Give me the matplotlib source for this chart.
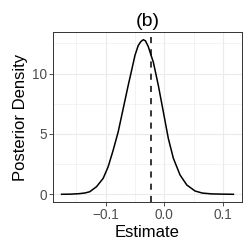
import matplotlib

matplotlib.use("Agg")
import matplotlib.pyplot as plt

# posterior density curve
estimate = [-0.175, -0.160, -0.145, -0.135, -0.127, -0.1154, -0.1041, -0.0956,
            -0.087, -0.0785, -0.0699, -0.0614, -0.0556, -0.0499, -0.0443, -0.040,
            -0.0357, -0.032, -0.0272, -0.023, -0.0186, -0.0101, -0.0015, 0.007,
            0.0156, 0.027, 0.0385, 0.0526, 0.065, 0.081, 0.100, 0.118]
density = [0.0, 0.01, 0.05, 0.11, 0.21, 0.63, 1.32, 2.28,
           3.66, 5.17, 7.11, 9.03, 10.27, 11.51, 12.33, 12.65,
           12.81, 12.72, 12.25, 11.6, 10.96, 9.04, 6.83, 4.63,
           2.98, 1.60, 0.77, 0.27, 0.10, 0.03, 0.01, 0.0]
point_estimate = -0.022

x_ticks = [-0.1, 0.0, 0.1]
x_minor = [-0.15, -0.05, 0.05]
y_ticks = [0, 5, 10]
y_minor = [2.5, 7.5, 12.5]

plt.rcParams["font.family"] = ["Liberation Sans", "DejaVu Sans"]

fig = plt.figure(figsize=(2.5, 2.5), dpi=100)
ax = fig.add_axes([0.212, 0.192, 0.756, 0.68])

for v in x_minor:
    ax.axvline(v, color="#EBEBEB", linewidth=0.4, zorder=0)
for v in y_minor:
    ax.axhline(v, color="#EBEBEB", linewidth=0.4, zorder=0)
for v in x_ticks:
    ax.axvline(v, color="#EBEBEB", linewidth=0.8, zorder=0)
for v in y_ticks:
    ax.axhline(v, color="#EBEBEB", linewidth=0.8, zorder=0)

ax.plot(estimate, density, color="black", linewidth=1.1)
ax.axvline(point_estimate, color="black", linewidth=1.1, linestyle=(0, (4, 4)))

span = max(estimate) - min(estimate)
ax.set_xlim(min(estimate) - 0.05 * span, max(estimate) + 0.05 * span)
top = max(density)
ax.set_ylim(-0.05 * top, top * 1.05)

ax.set_xticks(x_ticks)
ax.set_xticklabels(["\u22120.1", "0.0", "0.1"])
ax.set_yticks(y_ticks)
ax.tick_params(length=2.7, width=0.6, color="#333333", labelcolor="#4D4D4D",
               labelsize=9.8, pad=1.5)
for s in ax.spines.values():
    s.set_color("#333333")
    s.set_linewidth(0.7)

ax.set_xlabel("Estimate", fontsize=12, labelpad=2)
ax.set_ylabel("Posterior Density", fontsize=12, labelpad=3)
ax.set_title("(b)", fontsize=14, pad=4)

fig.savefig("out.png", dpi=100)
